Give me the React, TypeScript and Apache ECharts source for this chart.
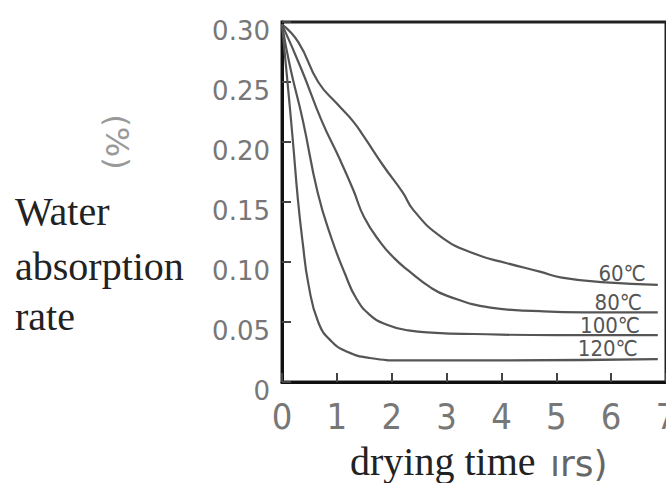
import React, { useEffect, useRef } from "react";
import * as echarts from "echarts";

// drying time (hrs) and water absorption rate (%) per drying temperature
const hours60 = [0, 0.3, 0.66, 1.0, 1.3, 1.5, 1.85, 2.2, 2.4, 2.9, 3.5, 4.1, 4.7, 5.1, 5.9, 6.85];
const rate60 = [0.298, 0.283, 0.25, 0.232, 0.217, 0.204, 0.18, 0.158, 0.143, 0.121, 0.107, 0.099, 0.092, 0.087, 0.083, 0.081];

const hours80 = [0, 0.36, 0.72, 1.05, 1.3, 1.5, 1.8, 2.05, 2.3, 2.7, 3.0, 3.8, 4.7, 5.5, 6.85];
const rate80 = [0.298, 0.26, 0.218, 0.186, 0.16, 0.137, 0.116, 0.103, 0.093, 0.079, 0.072, 0.062, 0.059, 0.058, 0.058];

const hours100 = [0, 0.15, 0.38, 0.65, 0.9, 1.15, 1.35, 1.6, 1.9, 2.3, 2.8, 3.5, 5.0, 6.85];
const rate100 = [0.298, 0.262, 0.218, 0.158, 0.12, 0.09, 0.07, 0.056, 0.048, 0.043, 0.041, 0.04, 0.039, 0.039];

const hours120 = [0, 0.1, 0.2, 0.29, 0.38, 0.48, 0.66, 0.9, 1.2, 1.6, 2.2, 4.0, 6.85];
const rate120 = [0.298, 0.25, 0.2, 0.152, 0.115, 0.082, 0.05, 0.034, 0.025, 0.02, 0.018, 0.018, 0.019];

const seriesNames = ["60℃", "80℃", "100℃", "120℃"];
const yLabelText = ["Water", "absorption", "rate"];
const yUnitText = "(%)";
const xTitleText = "drying time";
const xUnitText = "ırs)";

// where each temperature label sits, in data coordinates (hrs, %)
const labelAnchors: [number, number][] = [
  [6.2, 0.0905],
  [6.13, 0.0665],
  [5.98, 0.0475],
  [5.94, 0.028],
];

const curveColor = "#555";

export default function App() {
  const ref = useRef<HTMLDivElement>(null);

  useEffect(() => {
    const chart = echarts.init(ref.current!, null, { renderer: "svg" });

    const allHours = [hours60, hours80, hours100, hours120];
    const allRates = [rate60, rate80, rate100, rate120];

    const series = seriesNames.map((name, s) => ({
      type: "line",
      name,
      data: allHours[s].map((h, i) => [h, allRates[s][i]]),
      symbol: "none",
      showSymbol: false,
      smooth: 0.5,
      lineStyle: { color: curveColor, width: 2.2 },
      markPoint: {
        symbol: "circle",
        symbolSize: 1,
        itemStyle: { color: "rgba(0,0,0,0)" },
        label: {
          show: true,
          position: "inside",
          formatter: name,
          color: "#555",
          fontSize: 22,
          fontFamily: "DejaVu Sans Condensed, DejaVu Sans",
        },
        data: [{ coord: labelAnchors[s] }],
      },
    }));

    const option: any = {
      animation: false,
      backgroundColor: "#ffffff",
      grid: {
        left: 282,
        right: 0,
        top: 22,
        bottom: 101,
        containLabel: false,
        outerBoundsMode: "none",
        show: true,
        borderColor: "#222",
        borderWidth: 3,
        backgroundColor: "transparent",
      },
      xAxis: {
        type: "value",
        min: 0,
        max: 7,
        interval: 1,
        axisLine: { show: true, lineStyle: { color: "#111", width: 3 } },
        axisTick: { show: true, inside: true, length: 9, lineStyle: { color: "#444", width: 2 } },
        splitLine: { show: false },
        axisLabel: {
          show: true,
          showMinLabel: true,
          showMaxLabel: true,
          margin: 16,
          fontSize: 36,
          fontFamily: "DejaVu Sans Condensed, DejaVu Sans",
          color: "#777",
        },
      },
      yAxis: {
        type: "value",
        min: 0,
        max: 0.3,
        interval: 0.05,
        axisLine: { show: true, lineStyle: { color: "#111", width: 3 } },
        axisTick: { show: true, inside: true, length: 9, lineStyle: { color: "#444", width: 2 } },
        splitLine: { show: false },
        axisLabel: {
          show: true,
          margin: 12,
          fontSize: 26,
          lineHeight: 18,
          fontFamily: "DejaVu Sans, sans-serif",
          color: "#777",
          verticalAlign: "top",
          formatter: (v: number) => (Math.abs(v) < 1e-9 ? "0" : v.toFixed(2)),
        },
      },
      graphic: [
        ...yLabelText.map((t, i) => ({
          type: "text",
          x: 15,
          y: [211, 266, 316][i],
          style: {
            text: t,
            fontSize: 40,
            fontFamily: "Liberation Serif, Times New Roman, serif",
            fill: "#222",
            align: "left",
            verticalAlign: "middle",
          },
        })),
        {
          type: "text",
          x: 117,
          y: 142,
          rotation: -Math.PI / 2,
          style: {
            text: yUnitText,
            fontSize: 32,
            fontFamily: "DejaVu Sans, sans-serif",
            fill: "#999",
            align: "center",
            verticalAlign: "middle",
          },
        },
        {
          type: "text",
          x: 350,
          y: 461,
          style: {
            text: xTitleText,
            fontSize: 40,
            fontFamily: "Liberation Serif, Times New Roman, serif",
            fill: "#222",
            align: "left",
            verticalAlign: "middle",
          },
        },
        {
          type: "text",
          x: 550,
          y: 463,
          style: {
            text: xUnitText,
            fontSize: 36,
            fontFamily: "DejaVu Sans, sans-serif",
            fill: "#666",
            align: "left",
            verticalAlign: "middle",
          },
        },
      ],
      series,
    };

    chart.setOption(option);
    return () => chart.dispose();
  }, []);

  return (
    <div
      ref={ref}
      style={{ position: "fixed", left: 0, top: 0, width: 666, height: 483, background: "#fff" }}
    />
  );
}
